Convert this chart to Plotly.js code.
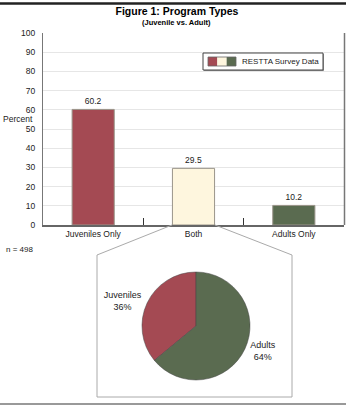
<!DOCTYPE html>
<html><head><meta charset="utf-8">
<script src="https://cdn.plot.ly/plotly-3.0.1.min.js"></script>
<style>html,body{margin:0;padding:0;background:#fff;}#chart{width:346px;height:405px;}</style>
</head><body><div id="chart"></div>
<script>
const categories = ["Juveniles Only", "Both", "Adults Only"];
const percents = [60.2, 29.5, 10.2];
const barColors = ["#A44A53", "#FEF6DE", "#5A6B50"];
const pieLabels = ["Juveniles", "Adults"];
const pieValues = [36, 64];
const pieColors = ["#A44A53", "#5A6B50"];
const yTicks = [0,10,20,30,40,50,60,70,80,90,100];

const W = 346, H = 405;
const px = x => x / W, py = y => 1 - y / H;
const font = "Liberation Sans, Arial, sans-serif";
const pieTotal = pieValues.reduce((a, b) => a + b, 0);

const traces = [
  {
    type: "bar", x: categories, y: percents,
    marker: {color: barColors, line: {color: "#9a958a", width: 1}},
    width: 0.42,
    text: percents.map(v => v.toFixed(1)), textposition: "outside",
    textfont: {family: font, size: 8.5, color: "#222"},
    cliponaxis: false, hoverinfo: "skip", showlegend: false
  },
  {
    type: "pie", labels: pieLabels, values: pieValues, sort: false,
    direction: "clockwise", rotation: -360 * pieValues[0] / pieTotal,
    marker: {colors: pieColors, line: {color: "#444", width: 0.5}},
    textposition: "outside", texttemplate: "%{label}<br>%{percent:.0%}",
    textfont: {family: font, size: 9, color: "#222"},
    domain: {x: [px(142), px(250)], y: [py(380), py(272)]},
    showlegend: false, hoverinfo: "skip"
  }
];

const legendShapes = [
  {type: "rect", xref: "paper", yref: "paper", x0: px(204), x1: px(324), y0: py(71), y1: py(54), fillcolor: "#999", line: {width: 0}},
  {type: "rect", xref: "paper", yref: "paper", x0: px(203), x1: px(323), y0: py(70), y1: py(53), fillcolor: "#fff", line: {color: "#444", width: 1}},
];
barColors.forEach((c, i) => {
  legendShapes.push({type: "rect", xref: "paper", yref: "paper",
    x0: px(208 + i * 9.33), x1: px(217.33 + i * 9.33), y0: py(66), y1: py(57),
    fillcolor: c, line: {width: 0}});
});
legendShapes.push({type: "rect", xref: "paper", yref: "paper", x0: px(208), x1: px(236), y0: py(66), y1: py(57), fillcolor: "rgba(0,0,0,0)", line: {color: "#666", width: 0.8}});

const layout = {
  width: W, height: H,
  margin: {l: 0, r: 0, t: 0, b: 0},
  paper_bgcolor: "#fff", plot_bgcolor: "#fff",
  title: {text: "<b>Figure 1: Program Types</b>", x: px(177), xanchor: "center", y: py(11), yanchor: "middle",
          font: {family: font, size: 10.5, color: "#000"}},
  xaxis: {
    domain: [px(43), px(344)], range: [-0.5, 2.5], type: "category",
    anchor: "y", showgrid: false, showline: true, linecolor: "#666", linewidth: 1.5,
    ticks: "inside", tickson: "boundaries", ticklen: 7, tickcolor: "#333", tickwidth: 1,
    tickfont: {family: font, size: 8.5, color: "#222"}, fixedrange: true, mirror: false
  },
  yaxis: {
    domain: [py(225), py(33)], range: [0, 100], tickvals: yTicks,
    showgrid: true, gridcolor: "#e6e6e6", gridwidth: 1,
    showline: true, linecolor: "#777", linewidth: 1, ticks: "", ticklabelstandoff: 5,
    tickfont: {family: font, size: 8.5, color: "#222"}, zeroline: false, fixedrange: true
  },
  shapes: [
    {type: "line", xref: "paper", yref: "paper", x0: 0, x1: 1, y0: py(3.5), y1: py(3.5), line: {color: "#222", width: 2.5}},
    {type: "line", xref: "paper", yref: "paper", x0: 0, x1: 1, y0: py(404), y1: py(404), line: {color: "#777", width: 1.5}},
    {type: "line", xref: "paper", yref: "paper", x0: px(344.5), x1: px(344.5), y0: py(225), y1: py(33), line: {color: "#777", width: 1.5}},
    {type: "path", xref: "paper", yref: "paper",
     path: `M ${px(172)} ${py(225)} L ${px(97)} ${py(255)} L ${px(97)} ${py(397)} L ${px(292)} ${py(397)} L ${px(292)} ${py(255)} L ${px(215)} ${py(225)}`,
     line: {color: "#aaa", width: 1}, fillcolor: "rgba(0,0,0,0)"},
    ...legendShapes
  ],
  annotations: [
    {text: "<b>(Juvenile vs. Adult)</b>", xref: "paper", yref: "paper", x: px(176), xanchor: "center", y: py(22), yanchor: "middle", showarrow: false,
     font: {family: font, size: 7.5, color: "#000"}},
    {text: "Percent", xref: "paper", yref: "paper", x: px(1), xanchor: "left", y: py(119), yanchor: "middle", showarrow: false,
     font: {family: font, size: 8.5, color: "#222"}},
    {text: "n = 498", xref: "paper", yref: "paper", x: px(4), xanchor: "left", y: py(249), yanchor: "middle", showarrow: false,
     font: {family: font, size: 8, color: "#222"}},
    {text: "RESTTA Survey Data", xref: "paper", yref: "paper", x: px(240), xanchor: "left", y: py(61.5), yanchor: "middle", showarrow: false,
     font: {family: font, size: 8, color: "#222"}}
  ]
};

Plotly.newPlot("chart", traces, layout, {staticPlot: true, displayModeBar: false});
</script></body></html>
